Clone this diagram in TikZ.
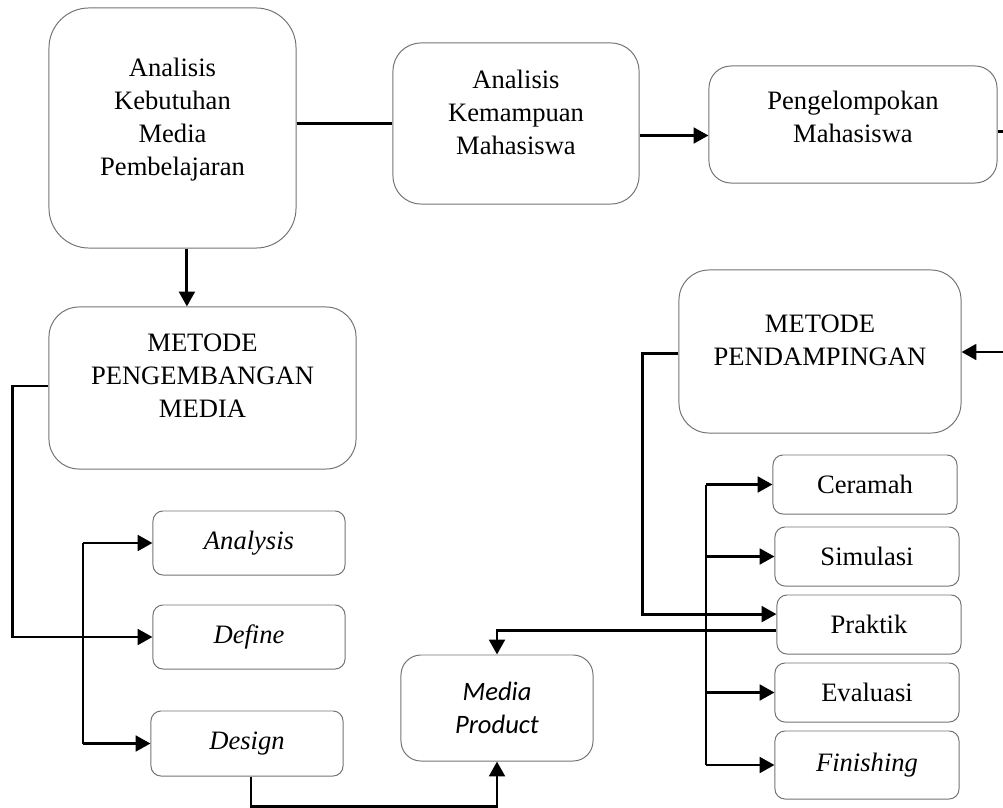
\documentclass[tikz,border=0pt]{standalone}
\usepackage{fontspec}
\setmainfont{Liberation Serif}
\newfontfamily\carlito{Carlito}
\usetikzlibrary{arrows.meta}
\begin{document}
\begin{tikzpicture}[x=0.025cm, y=-0.025cm,
  every node/.style={font=\fontsize{18.9}{23.5}\selectfont},
  box/.style={draw=black!55, line width=0.7pt, rounded corners=#1, align=center, inner sep=0pt},
  box/.default=0.25cm,
  txt/.style={align=center, inner sep=0pt},
  conn/.style={line width=2.1pt},
  arr/.style={conn, -{Triangle[length=3.7mm, width=3.9mm]}}]
\useasboundingbox (0,0) rectangle (1003,807);
\node[box=1cm, minimum width=6.175cm, minimum height=6cm] (akmp) at (172.5,128) {};
\node[txt] (akmp-t) at (172.5,119.5) {Analisis\\Kebutuhan\\Media\\Pembelajaran};
\node[box=0.7cm, minimum width=6.15cm, minimum height=4.025cm] (akm) at (516,123.5) {};
\node[txt] (akm-t) at (516,112.5) {Analisis\\Kemampuan\\Mahasiswa};
\node[box=0.55cm, minimum width=7.2cm, minimum height=2.925cm] (pengel) at (853,124.5) {};
\node[txt] (pengel-t) at (853,117) {Pengelompokan\\Mahasiswa};
\node[box=0.75cm, minimum width=7.675cm, minimum height=4.05cm] (mpm) at (202.5,388) {};
\node[txt] (mpm-t) at (202.5,376) {METODE\\PENGEMBANGAN\\MEDIA};
\node[box=0.75cm, minimum width=7.05cm, minimum height=4.075cm] (mpd) at (820,351.5) {};
\node[txt] (mpd-t) at (820,340.5) {METODE\\PENDAMPINGAN};
\node[box, minimum width=4.8cm, minimum height=1.6cm] (analysis) at (249,543) {\itshape Analysis};
\node[box, minimum width=4.8cm, minimum height=1.6cm] (define) at (249,637) {\itshape Define};
\node[box, minimum width=4.8cm, minimum height=1.625cm] (design) at (247,743.5) {\itshape Design};
\node[box=0.5cm, minimum width=4.8cm, minimum height=2.65cm, font=\fontsize{18.9}{23.5}\carlito\itshape] (mp) at (497,708) {Media\\Product};
\node[box, minimum width=4.6cm, minimum height=1.475cm] (ceramah) at (865,484.5) {Ceramah};
\node[box, minimum width=4.6cm, minimum height=1.475cm] (simulasi) at (867,556.5) {Simulasi};
\node[box, minimum width=4.6cm, minimum height=1.475cm] (praktik) at (869,624.5) {Praktik};
\node[box, minimum width=4.6cm, minimum height=1.475cm] (evaluasi) at (867,692.5) {Evaluasi};
\node[box, minimum width=4.6cm, minimum height=1.7cm] (finishing) at (867,765) {\itshape Finishing};
\coordinate (ltop) at (83,543);
\coordinate (lbot) at (83,743.5);
\coordinate (rtop) at (706,484.5);
\coordinate (rbot) at (706,765);
\coordinate (offr) at (1020,352);
\draw[conn] (akm.west -| akmp.east) -- (akm.west);
\draw[arr] ([yshift=-0.3cm]akm.east) -- ([yshift=-0.3cm]akm.east -| pengel.west);
\draw[conn] ([yshift=-0.17cm]pengel.east) -| (offr);
\draw[arr] (offr) -- (offr -| mpd.east);
\draw[arr] ([xshift=0.36cm]akmp.south) -- ([xshift=0.36cm]akmp.south |- mpm.north);
\draw[arr] ([yshift=0.05cm]mpm.west) -- ++(-36,0) |- (define.west);
\draw[conn] (ltop) -- (lbot);
\draw[arr] (ltop) -- (analysis.west);
\draw[arr] (lbot) -- (design.west);
\draw[arr] ([xshift=0.1cm]design.south) -- ++(0,30) -| (mp.south);
\draw[arr] ([yshift=-0.15cm]praktik.west) -| (mp.north);
\draw[arr] ([yshift=-0.04cm]mpd.west) -- ++(-36,0) |- ([yshift=0.26cm]praktik.west);
\draw[conn] (rtop) -- (rbot);
\draw[arr] (rtop) -- (ceramah.west);
\draw[arr] (rtop |- simulasi.west) -- (simulasi.west);
\draw[arr] (rtop |- evaluasi.west) -- (evaluasi.west);
\draw[arr] (rbot) -- (finishing.west);
\end{tikzpicture}
\end{document}
